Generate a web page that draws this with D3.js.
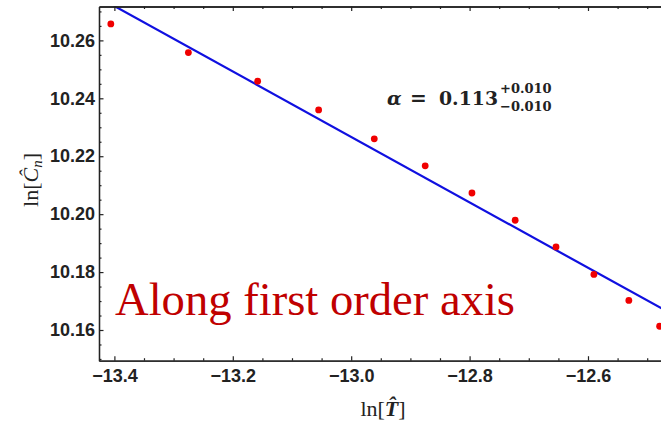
<!DOCTYPE html>
<html>
<head>
<meta charset="utf-8">
<script src="https://cdn.jsdelivr.net/npm/d3@7"></script>
<style>
  body { margin: 0; background: #fff; }
  svg { display: block; }
  .tick text { font-family: "Liberation Sans", Arial, sans-serif; font-weight: bold; font-size: 18px; fill: #222; }
</style>
</head>
<body>
<div id="plot"></div>
<script>
// data
const lnT = [-13.406, -13.275, -13.158, -13.055, -12.961, -12.875, -12.796, -12.723, -12.654, -12.590, -12.531, -12.479];
const lnC = [10.2657, 10.2558, 10.2459, 10.2360, 10.2260, 10.2167, 10.2073, 10.1979, 10.1887, 10.1792, 10.1702, 10.1613];

// fitted line, endpoints
const fitT = [-13.45, -12.40];
const fitC = [10.2775, 10.1589];

const xTicks = [-13.4, -13.2, -13.0, -12.8, -12.6];
const yTicks = [10.16, 10.18, 10.20, 10.22, 10.24, 10.26];

const width = 661, height = 425;
const mLeft = 99, mTop = 6.5, mBottom = 360.7;

const svg = d3.select('#plot').append('svg')
  .attr('width', width)
  .attr('height', height);

const x = d3.scaleLinear().domain([-13.426, -12.40]).range([mLeft, mLeft + 592 * 1.026]);
const y = d3.scaleLinear().domain([10.1494, 10.2717]).range([mBottom, mTop]);

// minor ticks every 0.05 on x, 0.005 on y
const xMinor = d3.range(-13.40, -12.40, 0.05).map(d => +d.toFixed(2)).filter(d => !xTicks.some(t => Math.abs(t - d) < 1e-6));
const yMinor = d3.range(10.150, 10.2701, 0.005).map(d => +d.toFixed(3)).filter(d => !yTicks.some(t => Math.abs(t - d) < 1e-6));

svg.append('clipPath')
  .attr('id', 'clip')
  .append('rect')
    .attr('x', mLeft)
    .attr('y', mTop)
    .attr('width', width - mLeft + 50)
    .attr('height', mBottom - mTop);

const plotArea = svg.append('g').attr('clip-path', 'url(#clip)');

// fit line
const line = d3.line()
  .x(d => x(d[0]))
  .y(d => y(d[1]));

plotArea.append('path')
  .datum(fitT.map((t, i) => [t, fitC[i]]))
  .attr('fill', 'none')
  .attr('stroke', '#1010e0')
  .attr('stroke-width', 2.2)
  .attr('d', line);

plotArea.selectAll('circle')
  .data(lnT.map((t, i) => [t, lnC[i]]))
  .join('circle')
    .attr('cx', d => x(d[0]))
    .attr('cy', d => y(d[1]))
    .attr('r', 3.4)
    .attr('fill', '#f00000');

// axes
function styleAxis(g) {
  g.select('.domain').attr('stroke', '#222').attr('stroke-width', 1.3);
  g.selectAll('.tick line').attr('stroke', '#222').attr('stroke-width', 1.2);
}

svg.append('g')
  .attr('transform', `translate(0,${mBottom})`)
  .call(d3.axisBottom(x).tickValues(xMinor).tickSize(-2.5).tickSizeOuter(0).tickFormat(''))
  .call(styleAxis);

svg.append('g')
  .attr('transform', `translate(0,${mBottom})`)
  .call(d3.axisBottom(x).tickValues(xTicks).tickSize(-4.5).tickSizeOuter(0).tickPadding(9).tickFormat(d3.format('.1f')))
  .call(styleAxis);

svg.append('g')
  .attr('transform', `translate(0,${mTop})`)
  .call(d3.axisTop(x).tickValues(xMinor).tickSize(-2.5).tickSizeOuter(0).tickFormat(''))
  .call(styleAxis);

svg.append('g')
  .attr('transform', `translate(0,${mTop})`)
  .call(d3.axisTop(x).tickValues(xTicks).tickSize(-4.5).tickSizeOuter(0).tickFormat(''))
  .call(styleAxis);

svg.append('g')
  .attr('transform', `translate(${mLeft},0)`)
  .call(d3.axisLeft(y).tickValues(yMinor).tickSize(-2.5).tickSizeOuter(0).tickFormat(''))
  .call(styleAxis);

svg.append('g')
  .attr('transform', `translate(${mLeft},0)`)
  .call(d3.axisLeft(y).tickValues(yTicks).tickSize(-4.5).tickSizeOuter(0).tickPadding(4).tickFormat(d3.format('.2f')))
  .call(styleAxis);

// axis labels
const xl = svg.append('text')
  .attr('x', 383)
  .attr('y', 416)
  .attr('text-anchor', 'middle')
  .attr('font-family', '"Liberation Serif", "Times New Roman", serif')
  .attr('font-size', 22)
  .attr('fill', '#222');
xl.append('tspan').text('ln[');
xl.append('tspan').attr('font-style', 'italic').attr('font-weight', 'bold').text('T\u0302');
xl.append('tspan').text(']');

const yl = svg.append('text')
  .attr('transform', `translate(38,180) rotate(-90)`)
  .attr('text-anchor', 'middle')
  .attr('font-family', '"Liberation Serif", "Times New Roman", serif')
  .attr('font-size', 22)
  .attr('fill', '#222');
yl.append('tspan').text('ln[');
yl.append('tspan').attr('font-style', 'italic').text('C\u0302');
yl.append('tspan').attr('font-style', 'italic').attr('font-size', 15).attr('dy', 4).text('n');
yl.append('tspan').attr('dy', -4).text(']');

// exponent annotation
const ann = svg.append('g')
  .attr('font-family', '"DejaVu Serif", serif')
  .attr('font-weight', 'bold')
  .attr('fill', '#222');
ann.append('text')
  .attr('x', 387).attr('y', 105)
  .attr('font-size', 19)
  .attr('font-style', 'italic')
  .text('\u03b1');
ann.append('text')
  .attr('x', 410).attr('y', 105)
  .attr('font-size', 20)
  .text('=');
ann.append('text')
  .attr('x', 439).attr('y', 105)
  .attr('font-size', 19)
  .attr('textLength', 59)
  .attr('lengthAdjust', 'spacingAndGlyphs')
  .text('0.113');
ann.append('text')
  .attr('x', 500).attr('y', 93)
  .attr('font-size', 13)
  .text('+0.010');
ann.append('text')
  .attr('x', 500).attr('y', 111)
  .attr('font-size', 13)
  .text('\u22120.010');

// big red label
svg.append('text')
  .attr('x', 115)
  .attr('y', 315)
  .attr('font-family', '"Liberation Serif", "Times New Roman", serif')
  .attr('font-size', 47)
  .attr('textLength', 400)
  .attr('lengthAdjust', 'spacingAndGlyphs')
  .attr('fill', '#c00000')
  .text('Along first order axis');
</script>
</body>
</html>
